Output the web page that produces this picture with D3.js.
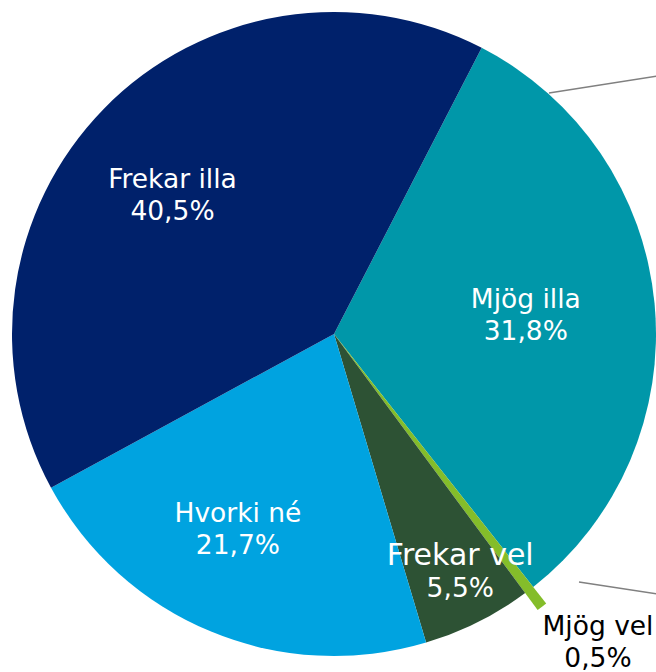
<!DOCTYPE html>
<html>
<head>
<meta charset="utf-8">
<script src="https://cdn.jsdelivr.net/npm/d3@7"></script>
<style>
  html, body { margin: 0; padding: 0; background: #fff; }
  svg { display: block; }
</style>
</head>
<body>
<div id="chart"></div>
<script>
// data, clockwise from the top-right slice
const categories = ['Mjög illa', 'Mjög vel', 'Frekar vel', 'Hvorki né', 'Frekar illa'];
const shares = [31.8, 0.5, 5.5, 21.7, 40.5];
const valueLabels = ['31,8%', '0,5%', '5,5%', '21,7%', '40,5%'];

const colors = ['#0097A9', '#84BD2A', '#2D5234', '#00A3E0', '#00216B'];
const textColors = ['#fff', '#000', '#fff', '#fff', '#fff'];
// label placement: distance from the centre and a small turn off the slice middle (degrees)
const labelDist = [193, 403, 267, 215, 215];
const labelTurn = [-1, -3.6, -1.7, 4.1, -3.1];
const nameSize = [26.5, 26.5, 30, 26.5, 26.5];

const width = 656, height = 672;
const cx = 334, cy = 334, radius = 322;

const svg = d3.select('#chart')
    .append('svg')
    .attr('width', width)
    .attr('height', height);

const g = svg.append('g')
    .attr('transform', 'translate(' + cx + ',' + cy + ')');

const rows = categories.map((c, i) => ({name: c, value: shares[i], label: valueLabels[i], i: i}));

const startDeg = 27.3;
const pie = d3.pie()
    .sort(null)
    .value(d => d.value)
    .startAngle(startDeg * Math.PI / 180)
    .endAngle((startDeg + 360) * Math.PI / 180);

const arcs = pie(rows);

const arc = d3.arc().innerRadius(0);

g.selectAll('path')
    .data(arcs)
    .enter()
    .append('path')
    .attr('d', d => arc.outerRadius(d.data.i === 1 ? 343 : radius)(d))
    .style('fill', d => colors[d.data.i]);

// leader lines running off the right edge
const leaders = [
    [[215, -241], [330, -259]],
    [[245, 248], [330, 261]]
];
g.selectAll('line.leader')
    .data(leaders)
    .enter()
    .append('line')
    .attr('class', 'leader')
    .attr('x1', d => d[0][0]).attr('y1', d => d[0][1])
    .attr('x2', d => d[1][0]).attr('y2', d => d[1][1])
    .style('stroke', '#808080')
    .style('stroke-width', 1.5);

const labels = g.selectAll('text.lbl')
    .data(arcs)
    .enter()
    .append('text')
    .attr('class', 'lbl')
    .attr('transform', d => {
        const a = (d.startAngle + d.endAngle) / 2 + labelTurn[d.data.i] * Math.PI / 180;
        const r = labelDist[d.data.i];
        return 'translate(' + (Math.sin(a) * r) + ',' + (-Math.cos(a) * r) + ')';
    })
    .style('text-anchor', 'middle')
    .style('font-family', '"DejaVu Sans", Verdana, sans-serif')
    .style('font-size', '26.5px')
    .style('fill', d => textColors[d.data.i]);

labels.append('tspan')
    .attr('x', 0)
    .attr('y', -4)
    .style('font-size', d => nameSize[d.data.i] + 'px')
    .text(d => d.data.name);

labels.append('tspan')
    .attr('x', 0)
    .attr('y', 28)
    .text(d => d.data.label);
</script>
</body>
</html>
